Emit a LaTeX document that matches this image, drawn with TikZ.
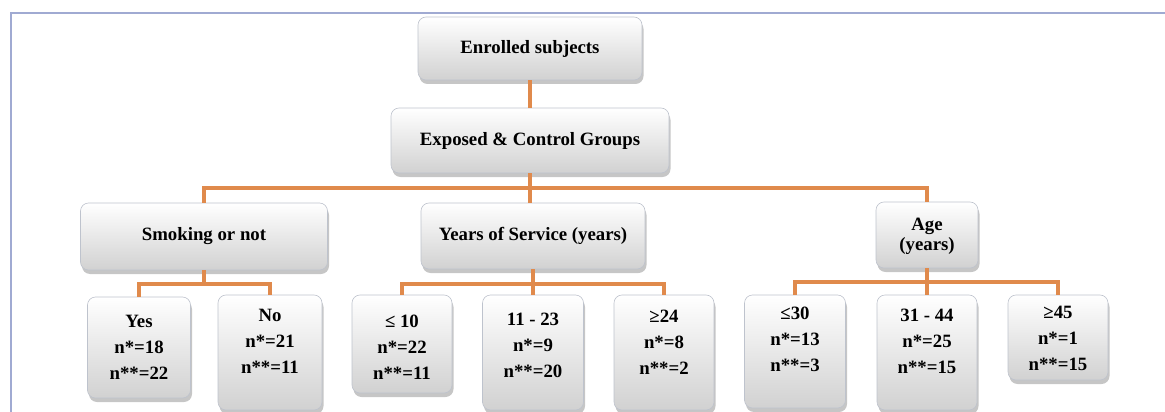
\documentclass[tikz,border=0pt]{standalone}
\usepackage{fontspec}
\setmainfont{Liberation Serif}
\usetikzlibrary{shadows}
\definecolor{conncol}{RGB}{224,138,76}
\definecolor{framecol}{RGB}{160,170,210}
\definecolor{boxedge}{RGB}{190,195,205}
\tikzset{
  box/.style={draw=boxedge, line width=0.6pt, rounded corners=8pt,
    top color=white, bottom color=black!18,
    drop shadow={opacity=0.45, shadow xshift=1.5pt, shadow yshift=-4pt},
    inner sep=0pt},
  conn/.style={draw=conncol, line width=3.5pt},
  lbl/.style={align=center, font=\bfseries\fontsize{18.8}{26}\selectfont, inner sep=0pt},
  lbls/.style={align=center, font=\bfseries\fontsize{18.8}{20}\selectfont, inner sep=0pt}
}
\begin{document}
\begin{tikzpicture}[x=1pt,y=-1pt]
\useasboundingbox (0,0) rectangle (1165,412);
\draw[framecol, line width=2pt] (11,420) -- (11,13) -- (1170,13);
% boxes
\node[box, minimum width=224pt, minimum height=63pt] (enr) at (530,48.5) {};
\node[box, minimum width=278pt, minimum height=65pt] (exp) at (530,140.5) {};
\node[box, minimum width=247pt, minimum height=67pt] (smk) at (204,236.5) {};
\node[box, minimum width=224pt, minimum height=66pt] (yrs) at (533,236) {};
\node[box, minimum width=102pt, minimum height=66pt] (age) at (927,235) {};
\node[box, minimum width=103pt, minimum height=101pt] (yes) at (139,347.5) {};
\node[box, minimum width=104pt, minimum height=115pt] (no) at (270,352.5) {};
\node[box, minimum width=100pt, minimum height=98pt] (le10) at (402,344) {};
\node[box, minimum width=101pt, minimum height=115pt] (r1123) at (533,352.5) {};
\node[box, minimum width=100pt, minimum height=115pt] (ge24) at (664,352.5) {};
\node[box, minimum width=101pt, minimum height=113pt] (le30) at (795,351.5) {};
\node[box, minimum width=100pt, minimum height=115pt] (r3144) at (927,352.5) {};
\node[box, minimum width=100pt, minimum height=85pt] (ge45) at (1058,337.5) {};
% labels
\node[lbl] (enr-t) at (enr.center) {Enrolled subjects};
\node[lbl] (exp-t) at (exp.center) {Exposed \& Control Groups};
\node[lbl] (smk-t) at (smk.center) {Smoking or not};
\node[lbl] (yrs-t) at (yrs.center) {Years of Service (years)};
\node[lbls] (age-t) at (927,236) {Age\\(years)};
\node[lbl] (yes-t) at (139,347) {Yes\\n*=18\\n**=22};
\node[lbl] (no-t) at (270,341) {No\\n*=21\\n**=11};
\node[lbl] (le10-t) at (402,347) {≤ 10\\n*=22\\n**=11};
\node[lbl] (r1123-t) at (533,345) {11 - 23\\n*=9\\n**=20};
\node[lbl] (ge24-t) at (664,342) {≥24\\n*=8\\n**=2};
\node[lbl] (le30-t) at (795,339) {≤30\\n*=13\\n**=3};
\node[lbl] (r3144-t) at (927,341) {31 - 44\\n*=25\\n**=15};
\node[lbl] (ge45-t) at (1058,338) {≥45\\n*=1\\n**=15};
% connectors
\coordinate (b1) at (530,188);
\coordinate (b2) at (204,284);
\coordinate (b3) at (533,284);
\coordinate (b4) at (927,282);
\draw[conn] (enr.south) -- (exp.north);
\draw[conn] (exp.south) -- (b1);
\draw[conn] (smk.north) |- (b1) -| (age.north);
\draw[conn] (b1) -- (b1 |- yrs.north);
\draw[conn] (smk.south) -- (b2);
\draw[conn] (yes.north) |- (b2) -| (no.north);
\draw[conn] (yrs.south) -- (r1123.north);
\draw[conn] (le10.north) |- (b3) -| (ge24.north);
\draw[conn] (age.south) -- (r3144.north);
\draw[conn] (le30.north) |- (b4) -| (ge45.north);
\end{tikzpicture}
\end{document}
